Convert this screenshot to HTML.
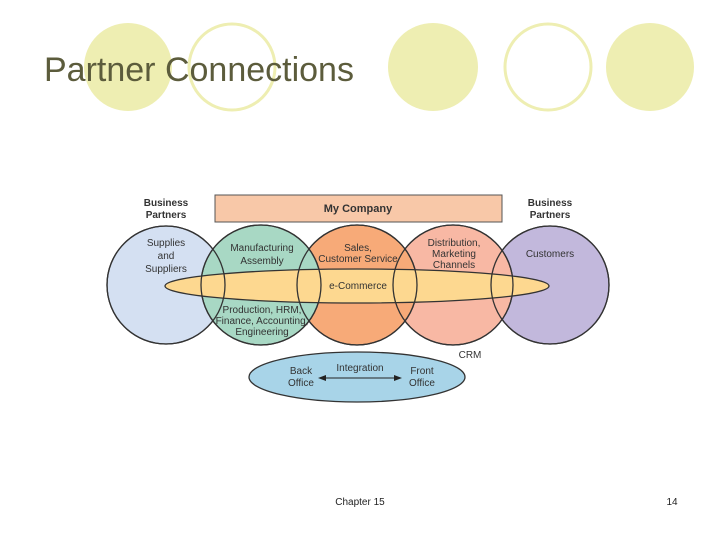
<!DOCTYPE html>
<html><head><meta charset="utf-8"><style>
body{margin:0;background:#fff;}
svg{display:block;font-family:"Liberation Sans",sans-serif;}
</style></head><body>
<svg width="720" height="540" viewBox="0 0 720 540">
<rect width="720" height="540" fill="#fff"/>
<g fill="#eeeeb2">
<ellipse cx="128" cy="67" rx="44" ry="44"/>
<ellipse cx="433" cy="67" rx="45" ry="44"/>
<ellipse cx="650" cy="67" rx="44" ry="44"/>
</g>
<g fill="none" stroke="#eeeeb2" stroke-width="3">
<ellipse cx="232" cy="67" rx="43" ry="43"/>
<ellipse cx="548" cy="67" rx="43" ry="43"/>
</g>
<text x="44" y="81" font-size="34" fill="#5c5c3c">Partner Connections</text>

<rect x="215" y="195" width="287" height="27" fill="#f8c8a8" stroke="#555" stroke-width="1"/>
<text x="358" y="212" font-size="11" font-weight="bold" fill="#333" text-anchor="middle">My Company</text>
<g font-size="10" font-weight="bold" fill="#333" text-anchor="middle">
<text x="166" y="206">Business</text><text x="166" y="218">Partners</text>
<text x="550" y="206">Business</text><text x="550" y="218">Partners</text>
</g>
<g stroke="#333" stroke-width="1.3">
<circle cx="166" cy="285" r="59" fill="#d4e0f2"/>
<circle cx="550" cy="285" r="59" fill="#c2b8dc"/>
<circle cx="453" cy="285" r="60" fill="#f8b8a4"/>
<circle cx="357" cy="285" r="60" fill="#f7aa78"/>
<circle cx="261" cy="285" r="60" fill="#a8d8c4"/>
<ellipse cx="357" cy="286" rx="192" ry="17" fill="#fdd890"/>
</g>
<g fill="none" stroke="#333" stroke-width="1.3">
<circle cx="166" cy="285" r="59"/>
<circle cx="550" cy="285" r="59"/>
<circle cx="453" cy="285" r="60"/>
<circle cx="357" cy="285" r="60"/>
<circle cx="261" cy="285" r="60"/>
</g>
<g font-size="10" fill="#333" text-anchor="middle">
<text x="166" y="246">Supplies</text><text x="166" y="259">and</text><text x="166" y="272">Suppliers</text>
<text x="262" y="251">Manufacturing</text><text x="262" y="264">Assembly</text>
<text x="358" y="251">Sales,</text><text x="358" y="262">Customer Service</text>
<text x="454" y="246">Distribution,</text><text x="454" y="257">Marketing</text><text x="454" y="268">Channels</text>
<text x="550" y="257">Customers</text>
<text x="358" y="289">e-Commerce</text>
<text x="262" y="313">Production, HRM,</text><text x="262" y="324">Finance, Accounting,</text><text x="262" y="335">Engineering</text>
<text x="470" y="358">CRM</text>
</g>
<ellipse cx="357" cy="377" rx="108" ry="25" fill="#a8d4e8" stroke="#333" stroke-width="1.3"/>
<g font-size="10" fill="#333" text-anchor="middle">
<text x="301" y="374">Back</text><text x="301" y="386">Office</text>
<text x="360" y="371">Integration</text>
<text x="422" y="374">Front</text><text x="422" y="386">Office</text>
</g>
<line x1="322" y1="378" x2="398" y2="378" stroke="#222" stroke-width="1"/>
<polygon points="318,378 326,375 326,381" fill="#222"/>
<polygon points="402,378 394,375 394,381" fill="#222"/>

<text x="360" y="505" font-size="10" fill="#222" text-anchor="middle">Chapter 15</text>
<text x="672" y="505" font-size="10" fill="#222" text-anchor="middle">14</text>
</svg>
</body></html>
